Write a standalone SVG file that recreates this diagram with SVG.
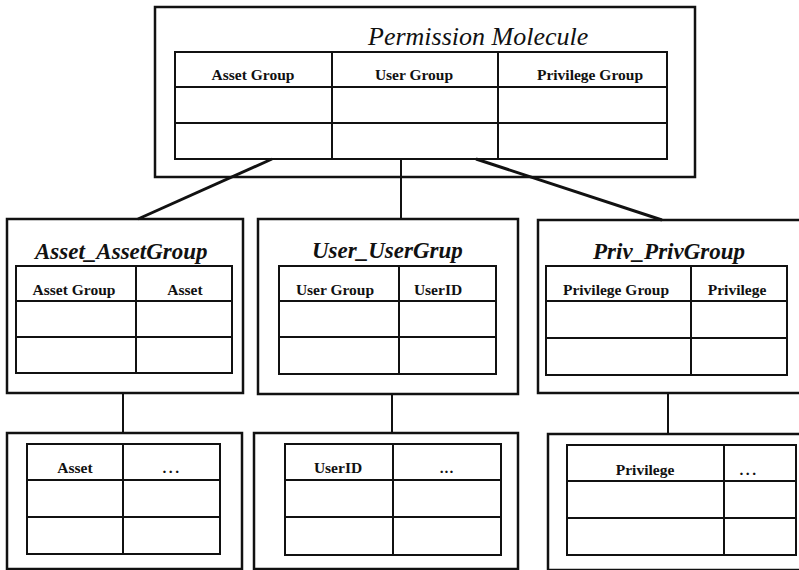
<svg xmlns="http://www.w3.org/2000/svg" width="799" height="570" viewBox="0 0 799 570">
<style>
.outer{fill:none;stroke:#111;stroke-width:2.5}
.grid{fill:none;stroke:#111;stroke-width:2}
.conn{fill:none;stroke:#111;stroke-width:3}
.vconn{fill:none;stroke:#111;stroke-width:2}
.title{font-family:"Liberation Serif",serif;font-style:italic;font-size:23px;font-weight:bold;fill:#111}
.mtitle{font-family:"Liberation Serif",serif;font-style:italic;font-size:26px;fill:#111}
.hdr{font-family:"Liberation Serif",serif;font-weight:bold;font-size:15.5px;fill:#111;text-anchor:middle}
.dots{letter-spacing:2.5px}
</style>
<rect width="799" height="570" fill="#fff"/>
<g id="connectors">
<line class="conn" x1="272" y1="159" x2="138" y2="219"/>
<line class="vconn" x1="401" y1="159" x2="401" y2="219"/>
<line class="conn" x1="476" y1="159" x2="662" y2="220"/>
<line class="vconn" x1="123" y1="393" x2="123" y2="433"/>
<line class="vconn" x1="392" y1="394" x2="392" y2="433"/>
<line class="vconn" x1="668" y1="393" x2="668" y2="434"/>
</g>
<g id="permission-molecule">
<rect class="outer" x="155" y="7" width="540" height="170" fill="#fff"/>
<text class="mtitle" x="368" y="45">Permission Molecule</text>
<rect class="grid" x="175" y="52" width="492" height="107"/>
<line class="grid" x1="175" y1="87" x2="667" y2="87"/>
<line class="grid" x1="175" y1="123" x2="667" y2="123"/>
<line class="grid" x1="332" y1="52" x2="332" y2="159"/>
<line class="grid" x1="498" y1="52" x2="498" y2="159"/>
<text class="hdr" x="253" y="80">Asset Group</text>
<text class="hdr" x="414" y="80">User Group</text>
<text class="hdr" x="590" y="80">Privilege Group</text>
</g>
<g id="asset-assetgroup">
<rect class="outer" x="7" y="219" width="236" height="174"/>
<text class="title" x="35" y="259">Asset_AssetGroup</text>
<rect class="grid" x="16" y="266" width="216" height="107"/>
<line class="grid" x1="16" y1="301" x2="232" y2="301"/>
<line class="grid" x1="16" y1="337" x2="232" y2="337"/>
<line class="grid" x1="136" y1="266" x2="136" y2="373"/>
<text class="hdr" x="74" y="295">Asset Group</text>
<text class="hdr" x="185" y="295">Asset</text>
</g>
<g id="user-usergrup">
<rect class="outer" x="258" y="219" width="260" height="175"/>
<text class="title" x="312" y="258">User_UserGrup</text>
<rect class="grid" x="279" y="266" width="217" height="108"/>
<line class="grid" x1="279" y1="301" x2="496" y2="301"/>
<line class="grid" x1="279" y1="337" x2="496" y2="337"/>
<line class="grid" x1="399" y1="266" x2="399" y2="374"/>
<text class="hdr" x="335" y="295">User Group</text>
<text class="hdr" x="438" y="295">UserID</text>
</g>
<g id="priv-privgroup">
<rect class="outer" x="538" y="220" width="275" height="173"/>
<text class="title" x="593" y="259">Priv_PrivGroup</text>
<rect class="grid" x="546" y="266" width="241" height="109"/>
<line class="grid" x1="546" y1="301" x2="787" y2="301"/>
<line class="grid" x1="546" y1="338" x2="787" y2="338"/>
<line class="grid" x1="691" y1="266" x2="691" y2="375"/>
<text class="hdr" x="616" y="295">Privilege Group</text>
<text class="hdr" x="737" y="295">Privilege</text>
</g>
<g id="asset-table">
<rect class="outer" x="7" y="433" width="235" height="136"/>
<rect class="grid" x="27" y="444" width="193" height="110"/>
<line class="grid" x1="27" y1="480" x2="220" y2="480"/>
<line class="grid" x1="27" y1="517" x2="220" y2="517"/>
<line class="grid" x1="123" y1="444" x2="123" y2="554"/>
<text class="hdr" x="75" y="473">Asset</text>
<text class="hdr dots" x="172" y="473">...</text>
</g>
<g id="userid-table">
<rect class="outer" x="254" y="433" width="264" height="136"/>
<rect class="grid" x="285" y="444" width="216" height="111"/>
<line class="grid" x1="285" y1="480" x2="501" y2="480"/>
<line class="grid" x1="285" y1="517" x2="501" y2="517"/>
<line class="grid" x1="393" y1="444" x2="393" y2="555"/>
<text class="hdr" x="338" y="473">UserID</text>
<text class="hdr" x="447" y="473" style="letter-spacing:1px">...</text>
</g>
<g id="privilege-table">
<rect class="outer" x="548" y="434" width="262" height="136"/>
<rect class="grid" x="567" y="445" width="229" height="110"/>
<line class="grid" x1="567" y1="481" x2="796" y2="481"/>
<line class="grid" x1="567" y1="518" x2="796" y2="518"/>
<line class="grid" x1="724" y1="445" x2="724" y2="555"/>
<text class="hdr" x="645" y="475">Privilege</text>
<text class="hdr dots" x="749" y="475">...</text>
</g>
</svg>
